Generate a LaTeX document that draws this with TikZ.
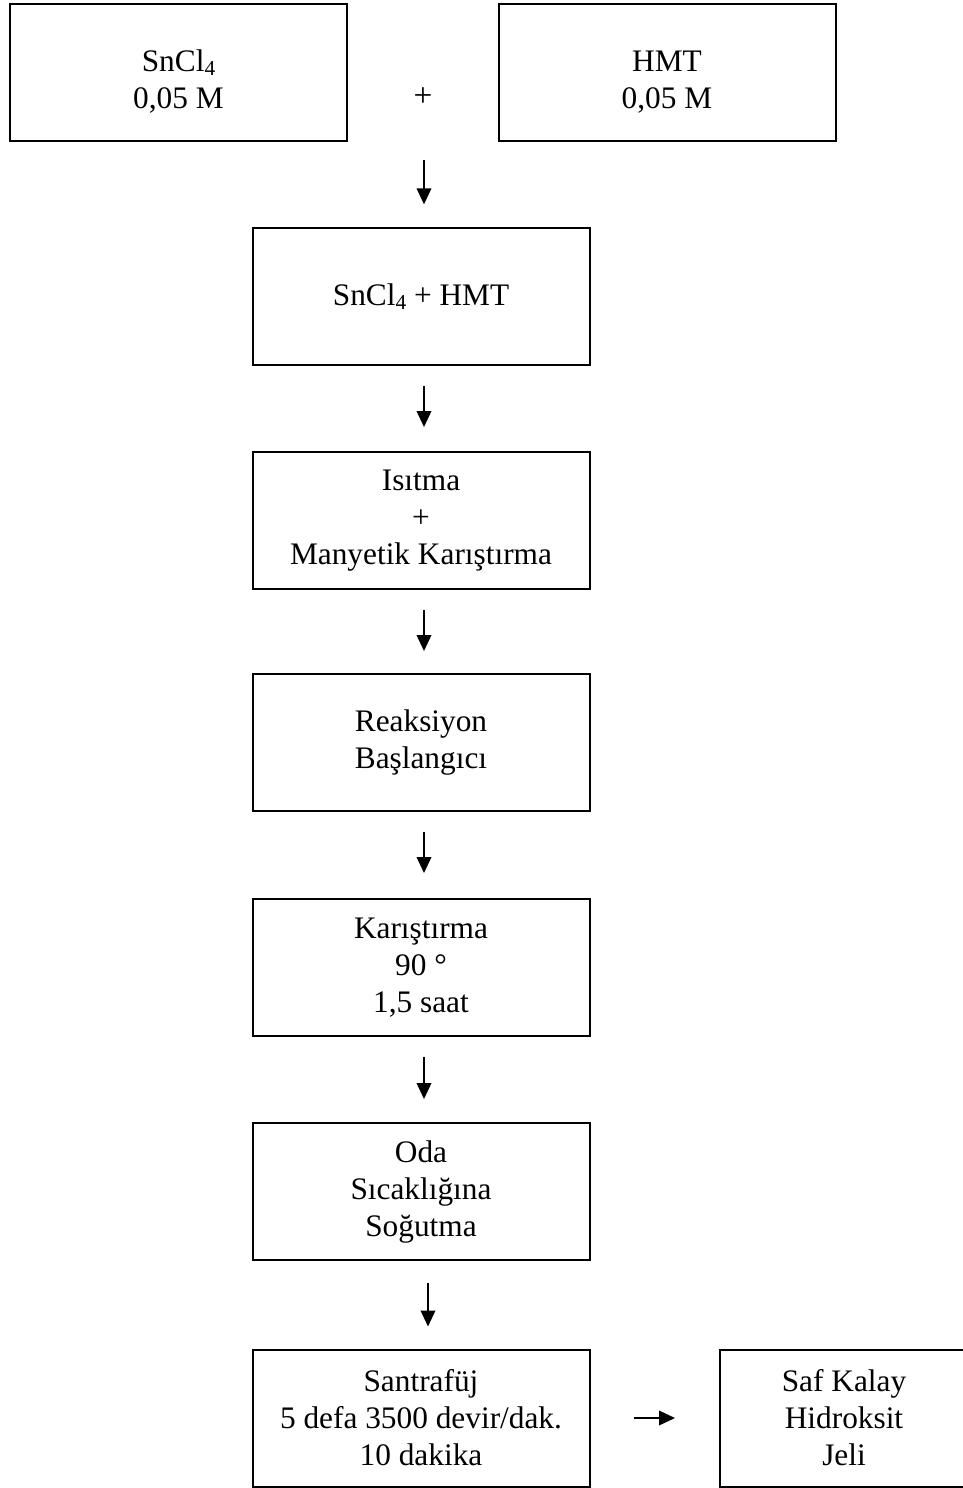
\documentclass[tikz,border=0pt]{standalone}
\usepackage{fontspec}
\setmainfont{Liberation Serif}
\usetikzlibrary{arrows.meta}
\newcommand{\subfour}{\raisebox{-0.28ex}{\fontsize{16}{16}\selectfont 4}}
\newcommand{\lowered}[1]{\raisebox{-7.5pt}[\height][\depth]{\begin{tabular}{@{}c@{}}#1\end{tabular}}}
\tikzset{
  stepbox/.style={draw, line width=1.5pt, align=center, inner sep=0pt,
    minimum width=252.75pt, minimum height=102.75pt,
    font=\fontsize{23.5}{27.75}\selectfont},
  arr/.style={line width=1.1pt, -{Triangle[length=12pt,width=11pt]}},
}
\begin{document}
\begin{tikzpicture}[x=0.75pt,y=-0.75pt]
\useasboundingbox (0,0) rectangle (963,1488);
\node[stepbox] (sn) at (178.5,72.5) {\lowered{SnCl\subfour\\0,05 M}};
\node[stepbox] (hmt) at (667,72.5) {\lowered{HMT\\0,05 M}};
\node[font=\fontsize{25}{27.75}\selectfont] (plus) at (423,97) {+};
\node[stepbox] (mix) at (421,296.5) {SnCl\subfour{} + HMT};
\node[stepbox] (heat) at (421,520.5) {Isıtma\\+\\Manyetik Karıştırma};
\node[stepbox] (start) at (421,742.5) {Reaksiyon\\Başlangıcı};
\node[stepbox] (stir) at (421,967.5) {Karıştırma\\90 °\\1,5 saat};
\node[stepbox] (cool) at (421,1191.5) {Oda\\Sıcaklığına\\Soğutma};
\node[stepbox] (cent) at (421,1418) {Santrafüj\\5 defa 3500 devir/dak.\\10 dakika};
\node[stepbox, minimum width=186pt] (gel) at (844,1418) {Saf Kalay\\Hidroksit\\Jeli};
\coordinate (a1) at (424,160);
\draw[arr] (a1) -- (a1 |- mix.north) [shorten >=17pt];
\draw[arr, shorten <=15pt, shorten >=18pt] ([xshift=2.25pt]mix.south) -- ([xshift=2.25pt]heat.north);
\draw[arr, shorten <=15pt, shorten >=16.5pt] ([xshift=2.25pt]heat.south) -- ([xshift=2.25pt]start.north);
\draw[arr, shorten <=15pt, shorten >=18.75pt] ([xshift=2.25pt]start.south) -- ([xshift=2.25pt]stir.north);
\draw[arr, shorten <=15pt, shorten >=17.25pt] ([xshift=2.25pt]stir.south) -- ([xshift=2.25pt]cool.north);
\draw[arr, shorten <=16.5pt, shorten >=16.5pt] ([xshift=5.25pt]cool.south) -- ([xshift=5.25pt]cent.north);
\draw[arr, shorten <=32.25pt, shorten >=33pt] (cent.east) -- (gel.west);
\end{tikzpicture}
\end{document}
